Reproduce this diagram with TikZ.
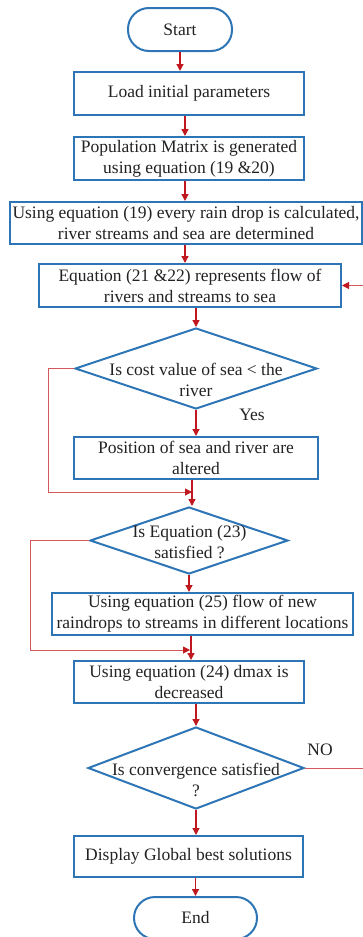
\documentclass[tikz,border=0pt]{standalone}
\usepackage{fontspec}
\setmainfont{Liberation Serif}
\usetikzlibrary{arrows.meta,shapes.geometric}
\definecolor{bblue}{HTML}{2E75B6}
\definecolor{rred}{HTML}{C0181F}
\definecolor{lred}{HTML}{D4575C}
\definecolor{txt}{HTML}{222222}
\begin{document}
\begin{tikzpicture}[x=1pt,y=1pt,
  every node/.style={font=\fontsize{17.5}{21}\selectfont, text=txt},
  box/.style={draw=bblue, line width=2pt, rectangle, align=center, inner sep=0pt},
  term/.style={box, rounded corners=21pt},
  dec/.style={draw=bblue, line width=2pt, diamond, inner sep=0pt},
  arr/.style={draw=rred, line width=1.3pt, -{Triangle[length=7pt,width=7pt]}},
  loopline/.style={draw=lred, line width=1pt, -{Triangle[length=7pt,width=7pt,color=rred]}}]
\useasboundingbox (0,0) rectangle (363,-937);
\clip (0,0) rectangle (363,-937);
\node[term, minimum width=104pt, minimum height=43pt] (start) at (180,-29.5) {Start};
\node[box, minimum width=230pt, minimum height=43pt] (load) at (189,-93.5) {Load initial parameters};
\node[box, minimum width=230pt, minimum height=43pt] (pop) at (189,-158.5) {Population Matrix is generated\\using equation (19 \&20)};
\node[box, minimum width=352pt, minimum height=42pt] (rain) at (186,-223) {Using equation (19) every rain drop is calculated,\\river streams and sea are determined};
\node[box, minimum width=302pt, minimum height=43pt] (flow) at (190,-285.5) {Equation (21 \&22) represents flow of\\rivers and streams to sea};
\node[dec, minimum width=242pt, minimum height=81pt] (d1) at (196,-368.5) {};
\node[align=center] (d1t) at (196,-380) {Is cost value of sea < the\\river};
\node[box, minimum width=244pt, minimum height=42pt] (pos) at (196,-458) {Position of sea and river are\\altered};
\node[dec, minimum width=198pt, minimum height=67pt] (d2) at (189,-540.5) {};
\node[align=center] (d2t) at (189.5,-542) {Is Equation (23)\\satisfied ?};
\node[box, minimum width=301pt, minimum height=42pt] (eq25) at (202.5,-614) {Using equation (25) flow of new\\raindrops to streams in different locations};
\node[box, minimum width=230pt, minimum height=42pt] (eq24) at (189,-682) {Using equation (24) dmax is\\decreased};
\node[dec, minimum width=216pt, minimum height=82pt] (d3) at (196,-768) {};
\node[align=center] (d3t) at (196,-780) {Is convergence satisfied\\?};
\node[box, minimum width=229pt, minimum height=41pt] (disp) at (188.5,-856.5) {Display Global best solutions};
\node[term, minimum width=123pt, minimum height=42pt] (end) at (195.5,-918) {End};
\node (yes) at (252,-415) {Yes};
\node (no) at (320,-750) {NO};
% main flow
\draw[arr] (start.south) -- (start.south |- load.north);
\draw[arr] ([xshift=-4pt]load.south) -- ([xshift=-4pt]load.south |- pop.north);
\draw[arr] ([xshift=-4pt]pop.south) -- ([xshift=-4pt]pop.south |- rain.north);
\draw[arr] ([xshift=-1pt]rain.south) -- ([xshift=-1pt]rain.south |- flow.north);
\draw[arr] (d1.north |- flow.south) -- (d1.north);
\draw[arr] (d1.south) -- (d1.south |- pos.north);
\draw[arr] ([xshift=-4pt]pos.south) -- ([xshift=-4pt]pos.south |- d2.north);
\draw[arr] (d2.south) -- (d2.south |- eq25.north);
\draw[arr] ([xshift=-11.5pt]eq25.south) -- ([xshift=-11.5pt]eq25.south |- eq24.north);
\draw[arr] (d3.north |- eq24.south) -- (d3.north);
\draw[arr] (d3.south) -- (d3.south |- disp.north);
\draw[arr] (end.north |- disp.south) -- (end.north);
% loops
\draw[loopline] (d1.west) -- ([xshift=-26pt]d1.west) |- ([xshift=-4pt,yshift=-12pt]pos.south);
\draw[loopline] (d2.west) -- ([xshift=-59pt]d2.west) |- ([xshift=-12.5pt,yshift=-14pt]eq25.south);
\draw[loopline] (d3.east) -- ([xshift=70pt]d3.east) |- (flow.east);
\end{tikzpicture}
\end{document}
